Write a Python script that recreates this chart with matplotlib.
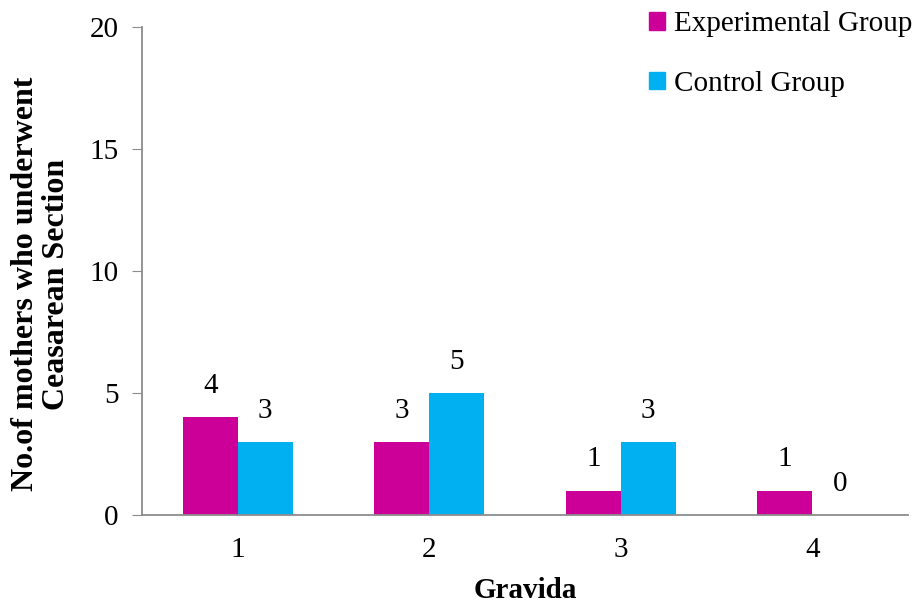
import numpy as np
import matplotlib.pyplot as plt
from matplotlib.patches import Patch

plt.rcParams['font.family'] = ['Liberation Serif', 'DejaVu Serif']

gravida = ['1', '2', '3', '4']
experimental = [4, 3, 1, 1]
control = [3, 5, 3, 0]

c_exp = '#CC0099'
c_ctl = '#00B0F0'
axis_grey = '#8C8C8C'
fs = 21

fig = plt.figure(figsize=(9.23, 6.09), dpi=100)
ax = fig.add_axes([142/923, 1 - 515/609, 766/923, 488/609])

x = np.arange(len(gravida))
w = 0.287
b1 = ax.bar(x - w/2, experimental, w, color=c_exp)
b2 = ax.bar(x + w/2, control, w, color=c_ctl)

for bars, vals in ((b1, experimental), (b2, control)):
    for r, v in zip(bars, vals):
        ax.text(r.get_x() + r.get_width()/2, v + 0.75, str(v),
                ha='center', va='bottom', fontsize=fs)

ax.set_xlim(-0.5, 3.5)
ax.set_ylim(0, 20)
ax.set_yticks([0, 5, 10, 15, 20])
ax.set_xticks(x)
ax.set_xticklabels(gravida)
ax.tick_params(axis='y', length=7, color=axis_grey, labelsize=fs, pad=10)
ax.tick_params(axis='x', length=0, labelsize=fs, pad=16)

for s in ('top', 'right'):
    ax.spines[s].set_visible(False)
for s in ('left', 'bottom'):
    ax.spines[s].set_color(axis_grey)
    ax.spines[s].set_linewidth(1.3)

ax.set_xlabel('Gravida', fontsize=fs, fontweight='bold')
ax.xaxis.set_label_coords(0.5, -(591 - 515) / 488, transform=ax.transAxes)
ax.xaxis.label.set_va('center')
ax.set_ylabel('No.of mothers who underwent\nCeasarean Section', fontsize=23,
              fontweight='bold', linespacing=1.1)
ax.yaxis.set_label_coords(-(142 - 41) / 766, (515 - 284) / 488)
ax.yaxis.label.set_va('center')

handles = [Patch(color=c_exp), Patch(color=c_ctl)]
fig.legend(handles, ['Experimental Group', 'Control Group'],
           loc='upper left', bbox_to_anchor=(623/923, 1 + 15/609),
           frameon=False, fontsize=fs, handlelength=0.55, handleheight=0.55,
           handletextpad=0.3, labelspacing=1.15)

fig.savefig('out.png', dpi=100)
